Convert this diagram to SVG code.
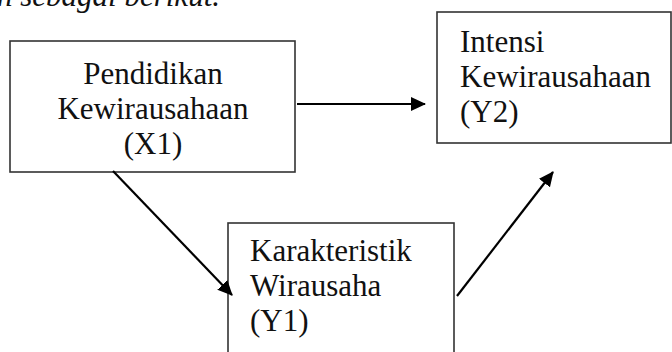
<svg xmlns="http://www.w3.org/2000/svg" width="672" height="352" viewBox="0 0 672 352">
<style>
.box{fill:#fff;stroke:#333;stroke-width:1.6}
.t{font-family:"Liberation Serif","Tinos","Times New Roman","DejaVu Serif",serif;font-size:31px;fill:#111}
.c{text-anchor:middle}
.a{stroke:#000;stroke-width:2.2;fill:none;marker-end:url(#ah)}
</style>
<defs>
<marker id="ah" markerWidth="16" markerHeight="16" refX="14" refY="7" orient="auto" markerUnits="userSpaceOnUse">
<path d="M0,0 L15,7 L0,14 Z" fill="#000"/>
</marker>
</defs>
<rect width="672" height="352" fill="#fff"/>
<text class="t" x="-3" y="6" font-style="italic" font-size="30">n sebagai berikut.</text>
<g id="x1">
<rect class="box" x="10" y="41" width="285" height="131"/>
<text class="t c" x="153" y="84">Pendidikan</text>
<text class="t c" x="153" y="119">Kewirausahaan</text>
<text class="t c" x="153" y="154">(X1)</text>
</g>
<g id="y2">
<rect class="box" x="437" y="12" width="234" height="131"/>
<text class="t" x="460" y="52">Intensi</text>
<text class="t" x="460" y="87">Kewirausahaan</text>
<text class="t" x="460" y="122">(Y2)</text>
</g>
<g id="y1">
<rect class="box" x="228" y="223" width="226" height="140"/>
<text class="t" x="250" y="261">Karakteristik</text>
<text class="t" x="250" y="296">Wirausaha</text>
<text class="t" x="250" y="331">(Y1)</text>
</g>
<g id="connectors">
<line class="a" x1="297" y1="104" x2="425" y2="104"/>
<line class="a" x1="113" y1="171" x2="232" y2="295"/>
<line class="a" x1="457" y1="296" x2="553" y2="172"/>
</g>
</svg>
